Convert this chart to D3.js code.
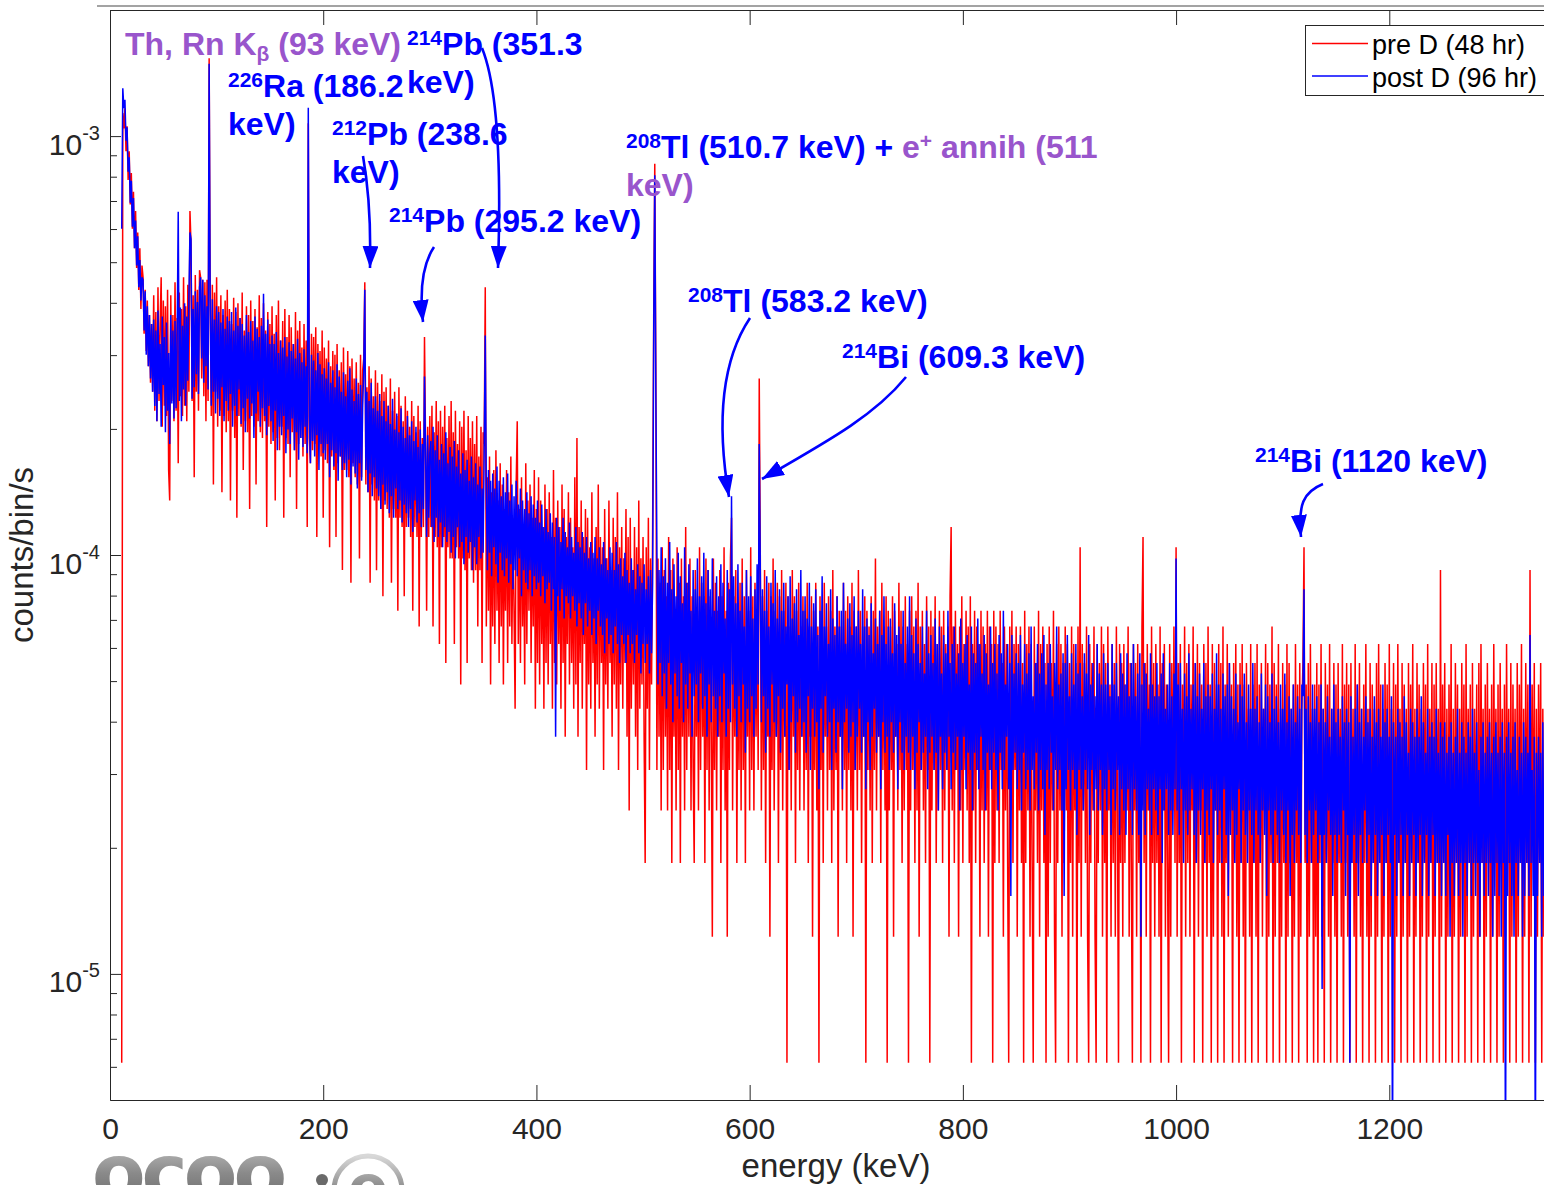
<!DOCTYPE html>
<html>
<head>
<meta charset="utf-8">
<script src="https://cdn.jsdelivr.net/npm/d3@7"></script>
<style>
  html, body { margin: 0; padding: 0; background: #fff; }
  svg { display: block; }
</style>
</head>
<body>
<svg id="chart" width="1544" height="1185"></svg>
<script>
// Gamma spectrum, 1 keV channels starting at 11 keV, raw counts per channel.
const firstChannelKeV = 11;

// pre D run (48 hr)
const preCounts = [
  1, 185, 170, 190, 150, 172, 128, 150, 112, 133,        // 11
  98, 120, 88, 108, 79, 96, 70, 88, 63, 80,
  75, 55, 70, 50, 66, 46, 61, 42, 58, 40,
  68, 36, 62, 34, 71, 38, 58, 75, 33, 66,
  37, 64, 35, 70, 26, 22, 68, 38, 61, 34,
  73, 36, 60, 27, 69, 39, 63, 35, 75, 37,               // 61
  64, 34, 72, 40, 108, 90, 38, 68, 25, 76,
  40, 70, 36, 78, 75, 43, 74, 39, 73, 34,
  74, 38, 250, 66, 35, 72, 24, 69, 40, 75,
  33, 64, 36, 68, 23, 61, 35, 66, 32, 70,
  34, 63, 22, 58, 36, 67, 31, 62, 20, 65,               // 111
  35, 60, 33, 69, 26, 56, 34, 64, 32, 61,
  21, 66, 35, 59, 33, 63, 24, 57, 34, 68,
  32, 60, 31, 65, 34, 56, 19, 62, 33, 58,
  30, 64, 32, 55, 22, 61, 31, 66, 29, 53,
  33, 59, 20, 63, 31, 54, 30, 61, 25, 57,               // 161
  32, 52, 29, 62, 21, 56, 30, 59, 31, 51,
  28, 58, 30, 53, 19, 175, 31, 27, 55, 29,
  54, 30, 57, 18, 52, 31, 50, 28, 56, 20,
  51, 29, 48, 27, 53, 17, 46, 28, 50, 26,
  49, 18, 52, 27, 45, 28, 47, 15, 51, 26,               // 211
  44, 26, 50, 25, 46, 14, 48, 27, 43, 25,
  47, 24, 42, 16, 49, 25, 45, 48, 73, 24,
  41, 23, 46, 14, 43, 24, 39, 22, 45, 15,
  42, 22, 38, 21, 44, 13, 40, 22, 41, 21,
  37, 20, 43, 14, 36, 21, 40, 20, 35, 12,               // 261
  41, 20, 37, 19, 34, 13, 39, 19, 36, 20,
  33, 18, 38, 12, 35, 19, 32, 18, 37, 11,
  34, 18, 31, 19, 54, 30, 12, 33, 18, 35,
  19, 37, 11, 32, 18, 38, 17, 34, 10, 36,
  17, 33, 18, 37, 9, 31, 17, 35, 16, 38,                // 311
  16, 32, 10, 36, 17, 30, 16, 34, 8, 33,
  16, 36, 15, 29, 9, 35, 16, 31, 15, 34,
  14, 30, 15, 35, 11, 28, 15, 33, 9, 32,
  30, 71, 11, 25, 12, 28, 8, 23, 11, 26,
  10, 29, 12, 22, 9, 27, 11, 24, 8, 21,                 // 361
  12, 26, 9, 23, 11, 28, 10, 20, 12, 7,
  24, 34, 10, 21, 9, 25, 11, 19, 8, 27,
  10, 22, 12, 24, 9, 20, 11, 26, 7, 21,
  9, 25, 8, 22, 10, 19, 7, 24, 9, 21,
  8, 23, 10, 18, 7, 26, 9, 20, 8, 22,                   // 411
  10, 19, 7, 24, 9, 21, 6, 18, 10, 23,
  8, 20, 9, 17, 7, 25, 8, 31, 6, 19,
  9, 22, 7, 18, 10, 21, 5, 20, 8, 17,
  7, 23, 9, 16, 6, 19, 8, 24, 7, 18,
  9, 17, 5, 21, 8, 16, 7, 22, 9, 15,                    // 461
  6, 20, 8, 18, 7, 23, 5, 17, 8, 19,
  7, 16, 9, 21, 6, 18, 4, 20, 7, 15,
  8, 19, 6, 17, 5, 22, 7, 16, 8, 18,
  6, 3, 17, 7, 20, 5, 16, 8, 19, 60,
  140, 45, 5, 16, 6, 14, 4, 17, 5, 15,                  // 511
  6, 13, 4, 18, 5, 15, 3, 16, 6, 12,
  4, 17, 5, 14, 3, 16, 6, 13, 4, 19,
  5, 14, 6, 16, 4, 13, 5, 3, 15, 6,
  12, 4, 17, 5, 14, 6, 13, 3, 16, 5,
  15, 4, 13, 6, 2, 16, 5, 14, 4, 12,                    // 561
  6, 15, 3, 13, 5, 17, 4, 12, 2, 14,
  5, 16, 20, 4, 13, 6, 15, 3, 12, 5,
  14, 4, 16, 5, 13, 3, 15, 6, 12, 4,
  17, 5, 13, 4, 14, 6, 12, 5, 43, 16,
  4, 13, 5, 15, 3, 12, 6, 14, 2, 13,                    // 611
  5, 16, 4, 12, 6, 14, 3, 13, 5, 15,
  4, 12, 6, 14, 1, 13, 5, 11, 4, 15,
  6, 13, 3, 12, 5, 14, 4, 11, 6, 13,
  4, 12, 5, 14, 3, 11, 6, 13, 2, 12,
  5, 14, 4, 11, 1, 13, 5, 12, 3, 14,                    // 661
  6, 11, 4, 13, 5, 12, 3, 15, 4, 11,
  5, 13, 2, 12, 6, 11, 4, 14, 5, 12,
  3, 13, 5, 11, 4, 14, 2, 12, 5, 11,
  4, 15, 5, 12, 3, 11, 6, 13, 1, 12,
  5, 11, 4, 13, 3, 12, 5, 16, 4, 11,                    // 711
  6, 12, 3, 14, 5, 11, 4, 13, 1, 12,
  4, 11, 5, 13, 2, 12, 6, 10, 4, 14,
  5, 12, 3, 11, 4, 13, 5, 10, 1, 12,
  4, 13, 5, 11, 3, 12, 4, 14, 2, 11,
  5, 12, 4, 10, 3, 13, 5, 11, 1, 12,                    // 761
  4, 11, 5, 13, 3, 10, 4, 12, 5, 11,
  3, 12, 4, 10, 5, 11, 2, 13, 19, 4,
  11, 3, 12, 5, 10, 2, 11, 4, 13, 3,
  10, 5, 12, 4, 11, 3, 13, 1, 10, 4,
  12, 3, 11, 5, 10, 2, 12, 4, 11, 3,                    // 811
  10, 4, 12, 2, 11, 5, 10, 1, 12, 3,
  11, 4, 10, 3, 12, 5, 9, 2, 11, 4,
  10, 3, 1, 11, 4, 12, 3, 10, 5, 11,
  2, 10, 4, 11, 3, 9, 1, 12, 3, 10,
  4, 11, 2, 10, 3, 1, 11, 4, 9, 3,                      // 861
  12, 2, 10, 4, 11, 3, 9, 1, 10, 2,
  11, 3, 9, 4, 12, 2, 1, 10, 3, 11,
  4, 10, 2, 9, 3, 11, 4, 10, 1, 9,
  3, 11, 2, 10, 4, 9, 1, 11, 3, 17,
  2, 10, 4, 9, 3, 11, 2, 1, 10, 3,                      // 911
  9, 4, 11, 2, 1, 10, 3, 9, 4, 11,
  2, 10, 3, 9, 1, 11, 4, 8, 2, 10,
  3, 9, 2, 11, 4, 1, 10, 3, 9, 2,
  10, 3, 8, 4, 11, 2, 9, 3, 1, 10,
  4, 9, 2, 10, 3, 8, 1, 11, 18, 3,                      // 961
  9, 2, 10, 4, 8, 1, 11, 3, 9, 2,
  10, 3, 8, 2, 11, 1, 9, 4, 10, 2,
  8, 3, 1, 10, 2, 9, 4, 11, 3, 17,
  2, 9, 3, 10, 1, 8, 4, 11, 2, 9,
  3, 10, 2, 8, 4, 11, 1, 9, 3, 10,                      // 1011
  2, 9, 4, 8, 1, 10, 3, 9, 2, 11,
  3, 8, 1, 10, 2, 9, 4, 8, 1, 10,
  3, 9, 2, 11, 1, 8, 3, 10, 2, 9,
  4, 8, 1, 9, 3, 10, 2, 8, 1, 9,
  3, 10, 2, 8, 1, 9, 4, 7, 2, 10,                       // 1061
  1, 8, 3, 9, 2, 10, 1, 8, 3, 9,
  2, 7, 4, 10, 1, 9, 2, 8, 3, 11,
  1, 9, 2, 8, 3, 10, 1, 7, 2, 9,
  3, 8, 1, 10, 2, 9, 3, 7, 1, 8,
  2, 10, 3, 8, 1, 9, 2, 7, 9, 17,                       // 1111
  3, 8, 1, 9, 2, 10, 3, 7, 1, 8,
  2, 9, 1, 8, 3, 10, 2, 7, 1, 9,
  3, 8, 2, 10, 1, 7, 3, 9, 2, 8,
  1, 9, 3, 7, 2, 10, 1, 8, 3, 9,
  2, 8, 1, 9, 3, 7, 2, 10, 1, 8,                        // 1161
  3, 9, 2, 7, 1, 8, 3, 10, 2, 7,
  1, 9, 2, 8, 3, 7, 1, 9, 2, 10,
  3, 8, 1, 7, 2, 9, 3, 8, 1, 10,
  2, 7, 3, 9, 1, 8, 2, 10, 3, 7,
  1, 9, 2, 8, 3, 7, 1, 9, 2, 8,                         // 1211
  3, 10, 1, 7, 2, 9, 3, 8, 1, 7,
  2, 9, 3, 8, 1, 10, 2, 7, 3, 9,
  1, 8, 2, 9, 3, 7, 1, 15, 2, 8,
  3, 9, 1, 7, 2, 8, 3, 10, 1, 7,
  2, 9, 3, 8, 1, 7, 2, 9, 3, 8,                         // 1261
  1, 10, 2, 7, 3, 8, 1, 9, 2, 7,
  3, 8, 1, 9, 2, 10, 3, 7, 1, 8,
  2, 9, 3, 7, 1, 8, 2, 10, 3, 7,
  1, 8, 2, 9, 3, 7, 1, 8, 2, 10,
  3, 7, 1, 9, 2, 8, 3, 7, 1, 9,                         // 1311
  2, 8, 3, 10, 1, 7, 2, 9, 3, 8,
  1, 15, 2, 8, 3, 9, 1, 7, 2, 8,
  3, 9, 1, 7, 2
];

// post D run (96 hr)
const postCounts = [
  196, 424, 380, 398, 318, 342, 268, 290, 226, 255,      // 11
  198, 232, 176, 205, 160, 188, 142, 165, 132, 150,
  148, 112, 139, 98, 128, 92, 122, 86, 116, 80,
  119, 74, 112, 68, 125, 79, 104, 66, 121, 83,
  108, 64, 117, 72, 99, 60, 122, 75, 112, 69,
  118, 73, 109, 215, 76, 127, 68, 115, 81, 130,         // 61
  74, 121, 85, 134, 192, 185, 77, 126, 82, 139,
  88, 131, 79, 142, 150, 96, 148, 84, 136, 92,
  128, 81, 485, 126, 74, 133, 80, 119, 71, 128,
  77, 124, 70, 117, 82, 126, 68, 113, 76, 121,
  72, 118, 79, 124, 66, 112, 74, 127, 70, 115,          // 111
  81, 120, 67, 116, 73, 109, 64, 122, 77, 111,
  69, 118, 75, 106, 62, 121, 71, 113, 80, 108,
  66, 115, 73, 137, 70, 110, 63, 119, 74, 104,
  68, 109, 61, 104, 72, 111, 58, 99, 66, 106,
  63, 102, 70, 108, 57, 97, 65, 105, 60, 100,           // 161
  69, 104, 58, 96, 64, 107, 55, 99, 62, 94,
  59, 101, 66, 92, 57, 381, 70, 54, 98, 61,
  95, 56, 90, 63, 99, 52, 93, 60, 88, 57,
  91, 55, 86, 60, 94, 50, 84, 58, 90, 53,
  82, 57, 93, 49, 87, 56, 80, 52, 89, 54,               // 211
  78, 50, 85, 55, 91, 48, 81, 53, 76, 51,
  86, 47, 79, 54, 83, 49, 74, 90, 140, 52,
  80, 46, 76, 51, 84, 45, 73, 50, 78, 47,
  72, 45, 79, 42, 70, 48, 76, 43, 68, 46,
  74, 41, 67, 45, 77, 40, 65, 47, 71, 42,               // 261
  64, 44, 73, 39, 66, 43, 62, 41, 70, 38,
  63, 42, 68, 37, 61, 44, 66, 39, 59, 41,
  65, 38, 60, 42, 87, 58, 36, 63, 40, 57,
  61, 38, 66, 35, 58, 40, 63, 36, 55, 39,
  60, 34, 57, 38, 64, 35, 54, 37, 59, 33,               // 311
  56, 36, 61, 32, 53, 38, 58, 34, 51, 35,
  57, 31, 52, 36, 55, 33, 49, 35, 56, 30,
  50, 34, 54, 31, 48, 36, 53, 32, 47, 33,
  58, 109, 46, 30, 52, 33, 49, 29, 51, 34,
  47, 31, 53, 28, 49, 33, 45, 30, 50, 29,               // 361
  46, 32, 51, 28, 44, 31, 48, 27, 45, 30,
  49, 29, 43, 32, 47, 26, 44, 30, 42, 28,
  46, 27, 41, 30, 45, 26, 43, 29, 40, 27,
  44, 28, 39, 26, 43, 29, 38, 25, 42, 27,
  37, 28, 41, 24, 39, 27, 36, 12, 40, 26,               // 411
  38, 24, 35, 27, 40, 23, 37, 26, 34, 25,
  39, 23, 36, 26, 33, 24, 38, 22, 35, 25,
  34, 23, 37, 21, 33, 25, 36, 22, 32, 24,
  35, 21, 33, 23, 36, 20, 32, 24, 34, 22,
  31, 21, 35, 19, 32, 23, 30, 20, 34, 21,               // 461
  33, 19, 30, 22, 35, 20, 31, 18, 32, 21,
  29, 20, 33, 18, 30, 21, 28, 19, 32, 20,
  30, 18, 27, 21, 31, 19, 29, 17, 28, 20,
  31, 18, 27, 20, 29, 17, 30, 19, 28, 110,
  263, 80, 33, 16, 30, 18, 34, 15, 29, 17,              // 511
  32, 14, 28, 18, 35, 16, 27, 13, 31, 17,
  26, 15, 33, 14, 29, 18, 25, 13, 34, 16,
  28, 14, 31, 17, 24, 12, 30, 15, 27, 16,
  32, 13, 26, 17, 29, 14, 33, 15, 25, 12,
  30, 16, 27, 13, 32, 15, 24, 14, 29, 12,               // 561
  26, 15, 31, 13, 28, 17, 23, 12, 30, 14,
  27, 13, 45, 16, 29, 14, 25, 12, 31, 15,
  24, 13, 28, 16, 22, 11, 30, 14, 26, 13,
  29, 15, 23, 12, 27, 14, 31, 16, 60, 30,
  13, 27, 15, 24, 11, 29, 14, 22, 12, 28,               // 611
  16, 25, 13, 30, 12, 23, 15, 27, 11, 24,
  14, 28, 12, 22, 16, 26, 10, 29, 13, 23,
  15, 25, 11, 27, 13, 21, 14, 30, 12, 24,
  13, 26, 11, 23, 15, 28, 10, 22, 14, 25,
  12, 27, 13, 21, 9, 24, 14, 29, 11, 22,                // 661
  15, 25, 12, 20, 13, 27, 10, 23, 14, 21,
  11, 26, 13, 22, 12, 24, 9, 28, 13, 20,
  14, 23, 11, 25, 12, 21, 13, 26, 10, 22,
  12, 24, 14, 20, 11, 27, 12, 22, 9, 23,
  13, 21, 10, 25, 12, 19, 14, 23, 11, 20,               // 711
  12, 24, 9, 21, 13, 26, 11, 20, 12, 22,
  10, 23, 13, 19, 11, 25, 12, 21, 9, 22,
  13, 20, 11, 24, 10, 18, 12, 22, 11, 26,
  10, 21, 12, 19, 9, 23, 11, 20, 13, 18,
  10, 22, 11, 17, 12, 24, 9, 19, 11, 21,                // 761
  12, 18, 10, 23, 11, 20, 8, 22, 12, 17,
  9, 21, 11, 19, 10, 24, 12, 18, 9, 20,
  11, 22, 10, 17, 12, 19, 8, 23, 10, 18,
  12, 20, 9, 21, 11, 16, 10, 22, 8, 19,
  11, 18, 10, 23, 9, 20, 12, 17, 10, 21,                // 811
  8, 19, 11, 16, 10, 22, 9, 18, 11, 20,
  10, 17, 8, 21, 11, 19, 9, 24, 10, 16,
  12, 20, 9, 18, 5, 21, 10, 17, 11, 19,
  9, 18, 10, 21, 8, 16, 11, 20, 9, 17,
  10, 19, 8, 22, 10, 15, 9, 18, 11, 20,                 // 861
  8, 17, 10, 19, 9, 21, 7, 16, 10, 18,
  9, 20, 11, 15, 8, 18, 10, 22, 9, 16,
  10, 17, 8, 19, 5, 18, 9, 21, 10, 15,
  8, 19, 10, 16, 9, 20, 7, 17, 10, 18,
  9, 15, 8, 19, 10, 17, 9, 21, 7, 16,                   // 911
  10, 18, 8, 15, 9, 20, 8, 17, 10, 16,
  7, 19, 9, 16, 8, 18, 10, 15, 7, 20,
  9, 16, 8, 18, 10, 15, 7, 19, 9, 17,
  8, 16, 7, 19, 9, 15, 8, 18, 7, 20,
  9, 15, 8, 17, 7, 19, 4, 16, 8, 18,                    // 961
  7, 17, 9, 14, 8, 19, 7, 16, 9, 15,
  8, 18, 7, 15, 9, 17, 6, 19, 8, 14,
  9, 16, 7, 18, 8, 15, 7, 17, 9, 32,
  8, 16, 7, 18, 9, 14, 6, 17, 8, 15,
  7, 19, 8, 14, 9, 16, 7, 18, 6, 15,                    // 1011
  8, 17, 7, 14, 9, 18, 6, 15, 8, 16,
  7, 15, 9, 17, 6, 14, 8, 19, 7, 16,
  8, 14, 6, 17, 9, 15, 7, 16, 5, 18,
  7, 15, 8, 14, 6, 17, 7, 13, 9, 16,
  6, 15, 8, 17, 7, 13, 6, 16, 8, 14,                    // 1061
  7, 18, 6, 14, 8, 15, 7, 13, 6, 17,
  8, 14, 7, 16, 5, 15, 8, 13, 7, 17,
  6, 14, 8, 15, 7, 13, 6, 16, 8, 14,
  7, 17, 6, 13, 8, 15, 5, 14, 7, 16,
  6, 13, 8, 15, 7, 14, 6, 16, 15, 27,                   // 1111
  7, 14, 6, 15, 8, 13, 6, 16, 7, 14,
  8, 15, 6, 13, 7, 16, 3, 14, 7, 13,
  6, 15, 8, 12, 7, 14, 5, 16, 7, 13,
  6, 14, 7, 12, 6, 15, 8, 13, 5, 14,
  7, 13, 2, 15, 6, 12, 7, 14, 6, 16,                    // 1161
  5, 13, 7, 14, 6, 12, 8, 15, 6, 13,
  7, 14, 5, 12, 6, 15, 7, 13, 5, 14,
  6, 12, 7, 16, 5, 13, 6, 14, 7, 12,
  6, 15, 1, 13, 7, 12, 5, 14, 6, 13,
  7, 12, 5, 15, 6, 13, 7, 11, 5, 14,                    // 1211
  6, 13, 7, 12, 5, 14, 6, 12, 7, 15,
  5, 13, 6, 11, 7, 14, 5, 12, 6, 13,
  7, 12, 5, 14, 6, 11, 6, 13, 5, 12,
  6, 13, 5, 11, 7, 12, 4, 13, 6, 11,
  5, 12, 6, 14, 5, 11, 6, 13, 4, 12,                    // 1261
  6, 11, 5, 13, 6, 12, 5, 14, 6, 11,
  5, 13, 6, 10, 4, 12, 6, 13, 5, 11,
  6, 12, 5, 13, 6, 11, 4, 12, 5, 13,
  6, 11, 5, 12, 4, 13, 6, 11, 1, 12,
  5, 13, 6, 11, 5, 12, 4, 13, 6, 10,                    // 1311
  5, 12, 6, 11, 4, 13, 5, 12, 6, 11,
  5, 21, 6, 10, 5, 12, 1, 11, 5, 12,
  6, 11, 4, 13, 5
];

// Detector live time of each run, seconds
const liveSeconds = { pre: 163000, post: 326000 };

const seriesNames = ["pre D (48 hr)", "post D (96 hr)"];
const seriesColors = ["#ff0000", "#0000ff"];

const xTicks = [0, 200, 400, 600, 800, 1000, 1200];
const yMajorTicks = [1e-5, 1e-4, 1e-3];
const energyRange = [0, 1362];
const rateRange = [5e-6, 2e-3];

const FONT = '"Liberation Sans", Arial, Helvetica, sans-serif';
const AXIS = "#262626";
const BLUE = "#0000ff";
const PURPLE = "#9955cc";

const svg = d3.select("#chart").attr("font-family", FONT);
const plot = { left: 110, right: 1562, top: 10, bottom: 1100 };

svg.append("rect").attr("width", 1544).attr("height", 1185).attr("fill", "#fff");

const x = d3.scaleLinear().domain(energyRange).range([plot.left, plot.right]);
const y = d3.scaleLog().domain(rateRange).range([plot.bottom, plot.top]);

const toSeries = (counts, live) =>
  counts.map((c, i) => ({ e: firstChannelKeV + i, c, v: c / live }));

const series = [
  { name: seriesNames[0], color: seriesColors[0], data: toSeries(preCounts, liveSeconds.pre) },
  { name: seriesNames[1], color: seriesColors[1], data: toSeries(postCounts, liveSeconds.post) }
];

// frame line above the axes
svg.append("line").attr("x1", 97).attr("x2", 1544).attr("y1", 6).attr("y2", 6)
  .attr("stroke", "#a3a3a3").attr("stroke-width", 2);

// clip region for the spectra
const defs = svg.append("defs");
defs.append("clipPath").attr("id", "plotClip")
  .append("rect").attr("x", plot.left).attr("y", plot.top)
  .attr("width", plot.right - plot.left).attr("height", plot.bottom - plot.top);

const line = d3.line()
  .defined(d => d.c > 0)
  .x(d => x(d.e))
  .y(d => y(d.v));

const gLines = svg.append("g").attr("clip-path", "url(#plotClip)");
series.forEach(s => {
  gLines.append("path")
    .datum(s.data)
    .attr("fill", "none")
    .attr("stroke", s.color)
    .attr("stroke-width", 1.5)
    .attr("stroke-linejoin", "bevel")
    .attr("d", line);
});

// ---- axes ----
function styleAxis(g) {
  g.attr("font-family", FONT);
  g.selectAll("path, line").attr("stroke", AXIS).attr("stroke-width", 1);
  g.selectAll("text").attr("fill", AXIS);
}

svg.append("g")
  .attr("transform", `translate(0,${plot.bottom})`)
  .call(d3.axisBottom(x).tickValues(xTicks).tickSize(-15).tickSizeOuter(0)
    .tickPadding(18).tickFormat(d3.format("d")))
  .attr("font-size", 30)
  .call(styleAxis);

svg.append("g")
  .attr("transform", `translate(0,${plot.top})`)
  .call(d3.axisTop(x).tickValues(xTicks).tickSize(-15).tickSizeOuter(0).tickFormat(() => ""))
  .call(styleAxis);

const yMinorTicks = [];
for (let k = -6; k <= -3; k++) {
  for (let m = 2; m <= 9; m++) {
    const v = m * Math.pow(10, k);
    if (v > rateRange[0] * 1.0001 && v < rateRange[1] * 0.9999) yMinorTicks.push(v);
  }
}

svg.append("g")
  .attr("transform", `translate(${plot.left},0)`)
  .call(d3.axisLeft(y).tickValues(yMinorTicks).tickSize(-7).tickSizeOuter(0).tickFormat(() => ""))
  .call(styleAxis);

const gy = svg.append("g")
  .attr("transform", `translate(${plot.left},0)`)
  .call(d3.axisLeft(y).tickValues(yMajorTicks).tickSize(-11).tickSizeOuter(0).tickFormat(() => ""))
  .call(styleAxis);

gy.selectAll(".tick").each(function (d) {
  const t = d3.select(this).append("text")
    .attr("x", -10).attr("y", 18)
    .attr("text-anchor", "end")
    .attr("fill", AXIS)
    .attr("font-family", FONT);
  t.append("tspan").attr("font-size", 30).text("10");
  t.append("tspan").attr("font-size", 20).attr("dy", -15).text(String(Math.round(Math.log10(d))));
});

// axis titles
svg.append("text")
  .attr("x", (plot.left + plot.right) / 2).attr("y", 1177)
  .attr("text-anchor", "middle").attr("font-size", 33).attr("fill", AXIS)
  .text("energy (keV)");

svg.append("text")
  .attr("transform", `translate(33,${(plot.top + plot.bottom) / 2}) rotate(-90)`)
  .attr("text-anchor", "middle").attr("font-size", 33).attr("fill", AXIS)
  .text("counts/bin/s");

// ---- legend ----
const legend = svg.append("g");
legend.append("rect")
  .attr("x", 1305.5).attr("y", 25.5).attr("width", 252).attr("height", 70)
  .attr("fill", "#fff").attr("stroke", AXIS).attr("stroke-width", 1);
series.forEach((s, i) => {
  const ly = 43.5 + i * 32.5;
  legend.append("line").attr("x1", 1312).attr("x2", 1368).attr("y1", ly).attr("y2", ly)
    .attr("stroke", s.color).attr("stroke-width", 1.4);
  legend.append("text").attr("x", 1372).attr("y", ly + 10.5)
    .attr("font-size", 27).attr("fill", "#000").text(s.name);
});

// ---- peak annotations ----
const annotations = [
  { x: 125, y: 55, parts: [{ t: "Th, Rn K", c: PURPLE }, { t: "β", c: PURPLE, s: "sub" }, { t: " (93 keV)", c: PURPLE }] },
  { x: 407, y: 55, parts: [{ t: "214", s: "sup" }, { t: "Pb (351.3" }] },
  { x: 407, y: 93, parts: [{ t: "keV)" }] },
  { x: 228, y: 97, parts: [{ t: "226", s: "sup" }, { t: "Ra (186.2" }] },
  { x: 228, y: 135, parts: [{ t: "keV)" }] },
  { x: 332, y: 145, parts: [{ t: "212", s: "sup" }, { t: "Pb (238.6" }] },
  { x: 332, y: 183, parts: [{ t: "keV)" }] },
  { x: 389, y: 232, parts: [{ t: "214", s: "sup" }, { t: "Pb (295.2 keV)" }] },
  { x: 626, y: 158, parts: [{ t: "208", s: "sup" }, { t: "Tl (510.7 keV) + " }, { t: "e", c: PURPLE },
      { t: "+", c: PURPLE, s: "sup" }, { t: " annih (511", c: PURPLE }] },
  { x: 626, y: 196, parts: [{ t: "keV)", c: PURPLE }] },
  { x: 688, y: 312, parts: [{ t: "208", s: "sup" }, { t: "Tl (583.2 keV)" }] },
  { x: 842, y: 368, parts: [{ t: "214", s: "sup" }, { t: "Bi (609.3 keV)" }] },
  { x: 1255, y: 472, parts: [{ t: "214", s: "sup" }, { t: "Bi (1120 keV)" }] }
];

const shiftOf = { sup: -10, sub: 6 };
const gAnn = svg.append("g").attr("font-weight", "bold");
annotations.forEach(a => {
  const t = gAnn.append("text").attr("x", a.x).attr("y", a.y);
  let prev = 0;
  a.parts.forEach(p => {
    const sh = p.s ? shiftOf[p.s] : 0;
    t.append("tspan")
      .attr("dy", sh - prev)
      .attr("font-size", p.s ? 21 : 32)
      .attr("fill", p.c || BLUE)
      .style("white-space", "pre")
      .text(p.t);
    prev = sh;
  });
});

// arrows
defs.append("marker")
  .attr("id", "head").attr("markerUnits", "userSpaceOnUse")
  .attr("markerWidth", 24).attr("markerHeight", 16)
  .attr("refX", 22).attr("refY", 8).attr("orient", "auto")
  .append("path").attr("d", "M0,0 L22,8 L0,16 Z").attr("fill", BLUE);

const arrows = [
  "M482,48 C499,90 501,180 498,268",
  "M363,156 C369,190 371,225 370,268",
  "M434,247 C424,262 419,285 423,322",
  "M750,318 C722,360 716,420 729,497",
  "M906,377 C875,415 830,440 762,479",
  "M1323,484 C1303,492 1298,505 1301,537"
];
svg.append("g").selectAll("path").data(arrows).join("path")
  .attr("d", d => d)
  .attr("fill", "none").attr("stroke", BLUE).attr("stroke-width", 2.6)
  .attr("marker-end", "url(#head)");

// site mark at the lower left
const grad = defs.append("linearGradient")
  .attr("id", "markGrad").attr("x1", 0).attr("x2", 0).attr("y1", 0).attr("y2", 1);
grad.append("stop").attr("offset", 0).attr("stop-color", "#d8d8d8");
grad.append("stop").attr("offset", 0.5).attr("stop-color", "#8a8a8a");
grad.append("stop").attr("offset", 1).attr("stop-color", "#5a5a5a");
const mark = svg.append("g");
mark.append("text").attr("x", 92).attr("y", 1200)
  .attr("font-family", '"DejaVu Sans", sans-serif').attr("font-weight", "bold")
  .attr("font-size", 78).attr("letter-spacing", -4)
  .attr("fill", "url(#markGrad)").text("ocoo");
mark.append("circle").attr("cx", 322).attr("cy", 1180).attr("r", 6).attr("fill", "#6a6a6a");
mark.append("circle").attr("cx", 368).attr("cy", 1190).attr("r", 34)
  .attr("fill", "none").attr("stroke", "url(#markGrad)").attr("stroke-width", 5);
mark.append("text").attr("x", 368).attr("y", 1208).attr("text-anchor", "middle")
  .attr("font-family", '"DejaVu Sans", sans-serif').attr("font-weight", "bold")
  .attr("font-size", 60).attr("fill", "url(#markGrad)").text("e");
</script>
</body>
</html>
